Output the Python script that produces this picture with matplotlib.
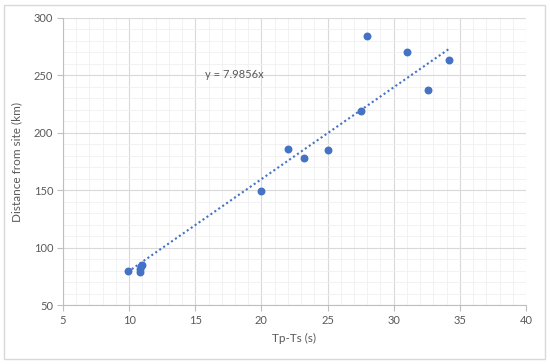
import numpy as np
import matplotlib.pyplot as plt
from matplotlib.ticker import MultipleLocator
from matplotlib.patches import Rectangle

# data
tp_ts = [9.9, 10.8, 10.85, 10.9, 11.0, 20.0, 22.0, 23.2, 25.0, 27.5, 28.0, 31.0, 32.6, 34.2]
distance = [80, 79, 82, 84, 85, 149, 186, 178, 185, 219, 284, 270, 237, 263]
slope = 7.9856

plt.rcParams['font.family'] = ['Lato', 'DejaVu Sans']
grey = '#595959'

fig = plt.figure(figsize=(5.5, 3.64), dpi=100)
ax = fig.add_axes([63 / 550, 1 - 305.3 / 364, 463 / 550, 287.5 / 364])

# outer chart border
fig.patches.append(Rectangle((4 / 550, 1 - 358.5 / 364), 541 / 550, 353.5 / 364,
                             transform=fig.transFigure, fill=False,
                             edgecolor='#d9d9d9', linewidth=1.0))

ax.set_xlim(5, 40)
ax.set_ylim(50, 300)
ax.xaxis.set_major_locator(MultipleLocator(5))
ax.yaxis.set_major_locator(MultipleLocator(50))
ax.xaxis.set_minor_locator(MultipleLocator(1))
ax.yaxis.set_minor_locator(MultipleLocator(10))
ax.grid(which='major', color='#d9d9d9', linewidth=0.8)
ax.grid(which='minor', color='#f0f0f0', linewidth=0.6)
ax.set_axisbelow(True)

for side in ['top', 'right']:
    ax.spines[side].set_visible(False)
for side in ['left', 'bottom']:
    ax.spines[side].set_color('#bfbfbf')
    ax.spines[side].set_linewidth(0.8)

ax.tick_params(which='both', length=0, colors=grey, labelsize=8)
ax.tick_params(axis='x', which='major', length=4, color='#bfbfbf', direction='out', pad=3)
ax.tick_params(axis='y', which='major', length=4, color='#bfbfbf', direction='out', pad=3)

# trendline through origin
xs = np.array([min(tp_ts), max(tp_ts)])
ax.plot(xs, slope * xs, linestyle=(0, (1, 1.3)), color='#4472c4', linewidth=1.5)

ax.scatter(tp_ts, distance, s=22, color='#4472c4', zorder=3)

ax.text(15.7, 251, 'y = 7.9856x', color=grey, fontsize=8, va='center', ha='left')

ax.set_xlabel('Tp-Ts (s)', color=grey, fontsize=8.5, labelpad=5)
ax.set_ylabel('Distance from site (km)', color=grey, fontsize=8.5, labelpad=8)

fig.savefig('out.png', dpi=100)
